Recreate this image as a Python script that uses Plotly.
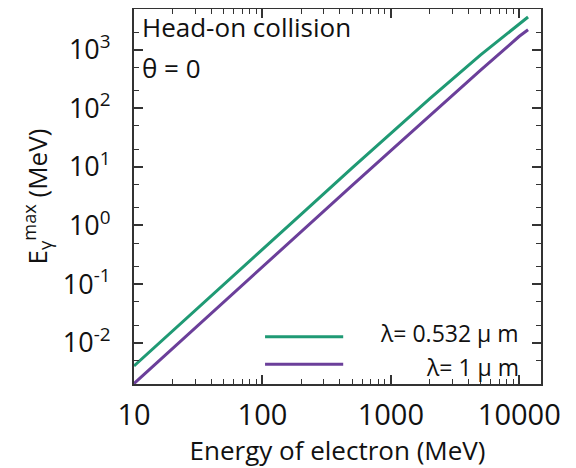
import plotly.graph_objects as go

# Electron energy (MeV)
energy_mev = [10, 20, 50, 100, 200, 500, 1000, 2000, 5000, 10000, 11700]
# Max photon energy (MeV), lambda = 0.532 um
e_max_532 = [4.0e-3, 0.016, 0.098, 0.39, 1.55, 9.6, 37, 145, 820, 2750, 3620]
# Max photon energy (MeV), lambda = 1 um
e_max_1000 = [2.0e-3, 0.008, 0.05, 0.195, 0.78, 4.85, 19, 75, 450, 1700, 2200]

series_names = ["λ= 0.532 μ m", "λ= 1 μ m"]
colors = ["#1f9a74", "#6b3f9a"]

x_tickvals = [10, 100, 1000, 10000]
x_ticktext = ["10", "100", "1000", "10000"]
y_tickvals = [1e-2, 1e-1, 1e0, 1e1, 1e2, 1e3]
y_ticktext = ["10<sup>-2</sup>", "10<sup>-1</sup>", "10<sup>0</sup>",
              "10<sup>1</sup>", "10<sup>2</sup>", "10<sup>3</sup>"]

FONT = "Open Sans"
fig = go.Figure()
for ys, name, c in zip([e_max_532, e_max_1000], series_names, colors):
    fig.add_trace(go.Scatter(x=energy_mev, y=ys, mode="lines", name=name,
                             line=dict(color=c, width=3), showlegend=False))

axis_common = dict(
    type="log", showgrid=False, zeroline=False, showline=True,
    linecolor="#333333", linewidth=2, mirror="allticks",
    ticks="inside", ticklen=9, tickwidth=1.5, tickcolor="#333333",
)
fig.update_xaxes(**axis_common, range=[1.0, 4.169],
                 tickvals=x_tickvals, ticktext=x_ticktext,
                 tickfont=dict(family=FONT, size=29, color="#111111"),
                 ticklabelstandoff=4,
                 minor=dict(ticks="inside", ticklen=5, tickwidth=1, tickcolor="#333333", dtick="D1"),
                 title=dict(text="Energy of electron (MeV)", font=dict(family=FONT, size=26, color="#111111"), standoff=12))
fig.update_yaxes(**axis_common, range=[-2.706, 3.696],
                 tickvals=y_tickvals, ticktext=y_ticktext,
                 tickfont=dict(family=FONT, size=27, color="#111111"),
                 ticklabelstandoff=16,
                 minor=dict(ticks="inside", ticklen=5, tickwidth=1, tickcolor="#333333", dtick="D2"),
                 title=dict(text="E<sub>γ</sub><sup>max</sup> (MeV)", font=dict(family=FONT, size=26, color="#111111"), standoff=8))

ann_font = dict(family=FONT, size=26, color="#111111")
annotations = [
    dict(x=0.015, y=1.005, xref="paper", yref="paper", text="Head-on collision",
         showarrow=False, xanchor="left", yanchor="top", font=ann_font),
    dict(x=0.015, y=0.897, xref="paper", yref="paper", text="θ = 0",
         showarrow=False, xanchor="left", yanchor="top", font=ann_font),
]
legend_y = [0.126, 0.053]
legend_anchor = ["bottom", "top"]
legend_mid = 0.0895
shapes = []
for name, c, ly, anc in zip(series_names, colors, legend_y, legend_anchor):
    shapes.append(dict(type="line", xref="paper", yref="paper", x0=0.322, x1=0.514,
                       y0=ly, y1=ly, line=dict(color=c, width=3)))
    annotations.append(dict(x=0.948, y=legend_mid, xref="paper", yref="paper", text=name,
                            showarrow=False, xanchor="right", yanchor=anc, borderpad=0,
                            font=dict(family=FONT, size=23, color="#111111")))

fig.update_layout(
    width=568, height=460,
    margin=dict(l=126, r=35, t=1, b=84, autoexpand=False),
    paper_bgcolor="white", plot_bgcolor="white",
    annotations=annotations, shapes=shapes,
)
fig.write_html("out.html")
